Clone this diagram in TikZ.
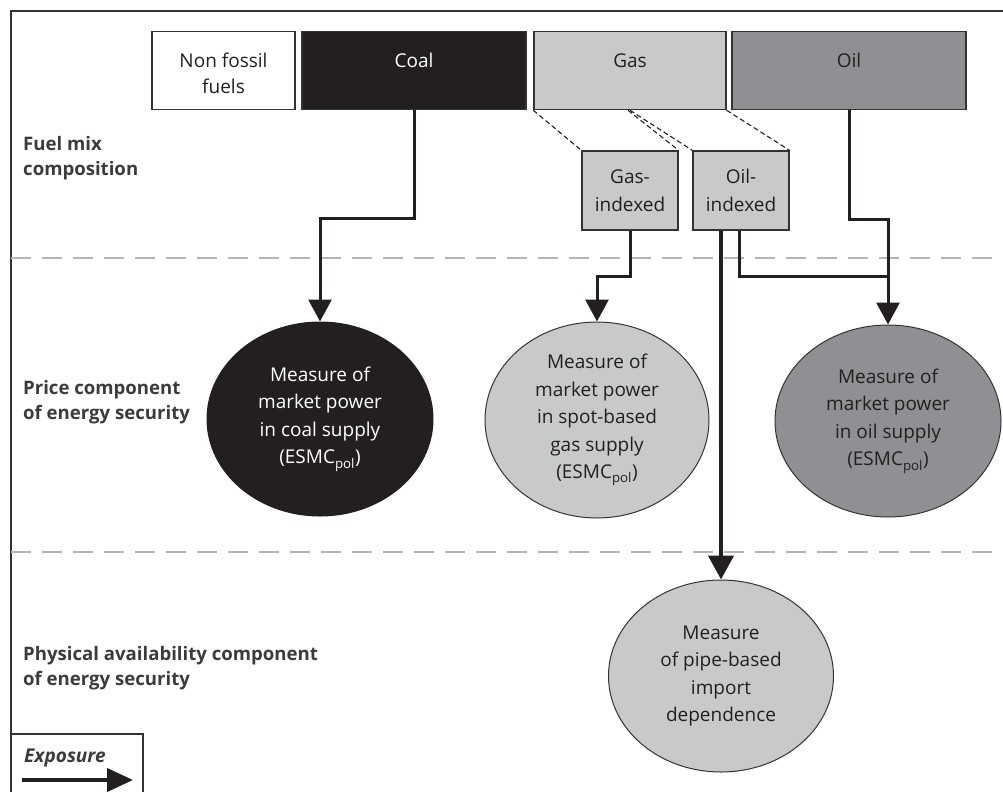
\documentclass[tikz,border=0pt]{standalone}
\usepackage{fontspec}
\setmainfont{Open Sans}
\usetikzlibrary{arrows.meta,shapes.geometric}
\definecolor{ink}{HTML}{231F20}
\definecolor{lightg}{HTML}{C8C9CB}
\definecolor{darkg}{HTML}{8F9093}
\definecolor{sepg}{HTML}{B4B4B4}
\definecolor{edge}{HTML}{333333}
\tikzset{
  fuelbox/.style={draw=edge, line width=1.3pt, inner xsep=2pt, inner ysep=0pt,
    text height=36pt, text depth=42pt, align=center, anchor=north,
    font=\fontsize{19}{26}\selectfont, text=ink},
  subbox/.style={draw=edge, line width=1.3pt, fill=lightg, minimum width=96pt,
    minimum height=79pt, inner sep=0pt, align=center,
    font=\fontsize{19}{28}\selectfont, text=ink},
  measure/.style={ellipse, draw=edge, line width=1pt, minimum width=226pt,
    minimum height=194pt, inner sep=0pt, align=center,
    font=\fontsize{19}{27.5}\selectfont, text=ink},
  rowlabel/.style={anchor=north west, inner sep=0pt, align=left,
    font=\fontsize{18.6}{25.5}\selectfont\bfseries, text=ink!88},
  conn/.style={draw=ink, line width=3pt},
  tip/.style={-{Triangle[length=22pt,width=23pt]}},
  splitline/.style={draw=ink, line width=1.1pt, dash pattern=on 5pt off 3pt},
  sepline/.style={draw=sepg, line width=1.5pt, dash pattern=on 20pt off 11pt},
}
\begin{document}
\begin{tikzpicture}[x=1pt,y=-1pt]
\useasboundingbox (0,0) rectangle (1003,792);
% frame
\draw[draw=edge, line width=1.5pt] (1003,11) -- (11,11) -- (11,792);
% separators
\draw[sepline] (11,258) -- (1003,258);
\draw[sepline] (11,552) -- (1003,552);

% row labels
\node[rowlabel] (lfuel) at (23,136) {Fuel mix\\composition};
\node[rowlabel] (lprice) at (23,380) {Price component\\of energy security};
\node[rowlabel] (lphys) at (23,646) {Physical availability component\\of energy security};

% fuel boxes
\node[fuelbox, minimum width=143pt, fill=white, text height=62pt, text depth=16pt] (nonfossil) at (223.5,31) {Non fossil\\fuels};
\node[fuelbox, minimum width=224pt, fill=ink, text=white] (coal) at (414,31) {Coal};
\node[fuelbox, minimum width=192pt, fill=lightg] (gas) at (630,31) {Gas};
\node[fuelbox, minimum width=234pt, fill=darkg] (oil) at (849,31) {Oil};

% sub boxes
\node[subbox] (gi) at (630,190.5) {Gas-\\indexed};
\node[subbox] (oi) at (741,190.5) {Oil-\\indexed};

% dashed split lines
\draw[splitline] (gas.south west) -- (gi.north west);
\draw[splitline] ([xshift=-2pt]gas.south) -- (gi.north east);
\draw[splitline] (gas.south) -- (oi.north west);
\draw[splitline] (gas.south east) -- (oi.north east);

% measures
\node[measure, fill=ink, draw=ink, text=white] (coalE) at (320,419) {Measure of\\market power\\in coal supply\\(ESMC\textsubscript{pol})};
\node[measure, fill=lightg, minimum width=224pt, minimum height=196pt] (gasE) at (597,420) {Measure of\\market power\\in spot-based\\gas supply\\(ESMC\textsubscript{pol})};
\node[measure, fill=darkg, minimum height=192pt] (oilE) at (888,421) {Measure of\\market power\\in oil supply\\(ESMC\textsubscript{pol})};
\node[measure, fill=lightg, minimum width=225pt, minimum height=192pt] (pipeE) at (721,676) {Measure\\of pipe-based\\import\\dependence};

% connectors
\draw[conn, tip] (coal.south) -- ++(0,108) -| (coalE.north);
\draw[conn, tip] (gi.south) -- ++(0,46) -| (gasE.north);
\draw[conn, tip] (oil.south) -- ++(0,109) -| (oilE.north);
\draw[conn] ([xshift=-2pt]oi.south) -- ++(0,46) -| (oilE.north |- 0,276);
\draw[conn, line width=4.5pt, -{Triangle[length=24pt,width=25pt]}] (pipeE.north |- oi.south) -- (pipeE.north);

% legend
\draw[draw=edge, line width=1.3pt] (11,734) -- (143,734) -- (143,792);
\node[anchor=base west, inner sep=0pt, font=\fontsize{19}{20}\selectfont\bfseries\itshape, text=ink!88] (exp) at (24,762) {Exposure};
\coordinate (ea) at (22,780);
\coordinate (eb) at (133,780);
\draw[conn, line width=4pt, -{Triangle[length=26pt,width=23pt]}] (ea) -- (eb);
\end{tikzpicture}
\end{document}
